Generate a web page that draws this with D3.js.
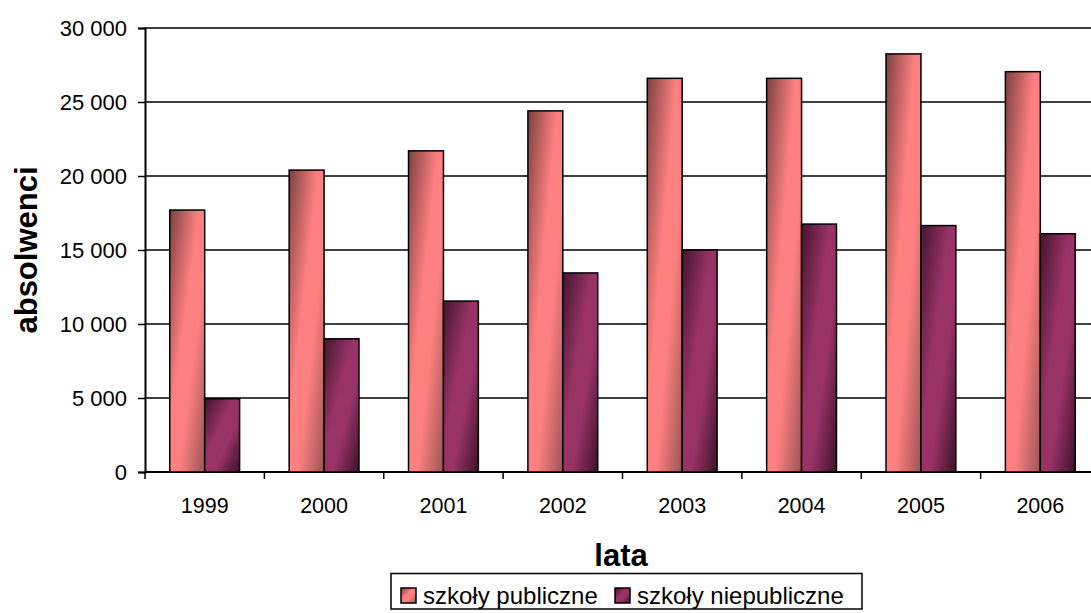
<!DOCTYPE html>
<html><head><meta charset="utf-8">
<script src="https://cdn.jsdelivr.net/npm/d3@7"></script>
<style>body{margin:0;background:#fff}svg{display:block}text{font-family:Arial,"Liberation Sans",sans-serif;fill:#000}</style>
</head><body>
<svg id="c" width="1091" height="613"></svg>
<script>
const years = ["1999","2000","2001","2002","2003","2004","2005","2006"];
const seriesNames = ["szkoły publiczne","szkoły niepubliczne"];
const publiczne = [17700, 20400, 21700, 24400, 26600, 26600, 28250, 27050];
const niepubliczne = [4950, 9000, 11550, 13450, 15000, 16750, 16650, 16100];
const yTicks = [0,5000,10000,15000,20000,25000,30000];
const xTitle = "lata", yTitle = "absolwenci";

(function(){
const svg = d3.select("#c");
const mLeft = 145, mTop = 28, mBottom = 472, mRight = 1100;
const y = d3.scaleLinear().domain([0,30000]).range([mBottom, mTop]);
const x0 = d3.scaleBand().domain(years).range([mLeft, mRight]).padding(0);
const groupW = x0.step()*0.585;
const x1 = d3.scaleBand().domain(seriesNames).range([0, groupW]).padding(0);

const defs = svg.append("defs");
function grad(id, dark, light, dark2){
  const g = defs.append("linearGradient").attr("id",id).attr("x1",0).attr("y1",0).attr("x2",1).attr("y2",1);
  g.append("stop").attr("offset",0).attr("stop-color",dark);
  g.append("stop").attr("offset",0.42).attr("stop-color",light);
  g.append("stop").attr("offset",0.62).attr("stop-color",light);
  g.append("stop").attr("offset",1).attr("stop-color",dark2);
}
grad("g0","#7a4040","#ff8080","#9a5555");
grad("g1","#44152e","#993366","#3c1229");
const fills = {"szkoły publiczne":"url(#g0)","szkoły niepubliczne":"url(#g1)"};

// gridlines
svg.append("g").selectAll("line").data(yTicks).join("line")
  .attr("x1",mLeft).attr("x2",1091).attr("y1",d=>y(d)).attr("y2",d=>y(d))
  .attr("stroke","#000").attr("stroke-width",1.5);

// y axis
const fmt = d => d3.format(",")(d).replace(/,/g," ");
const yAxis = d3.axisLeft(y).tickValues(yTicks).tickFormat(fmt).tickSize(7).tickPadding(11);
const ya = svg.append("g").attr("transform",`translate(${mLeft},0)`).call(yAxis);
ya.select(".domain").attr("stroke","#000").attr("stroke-width",2);
ya.selectAll(".tick line").attr("stroke","#000").attr("stroke-width",1.5);
ya.selectAll("text").attr("font-size",22).attr("font-family","Arial, 'Liberation Sans', sans-serif").attr("fill","#000");

// x axis
const xAxis = d3.axisBottom(x0).tickSize(0).tickPadding(26);
const xa = svg.append("g").attr("transform",`translate(0,${mBottom})`).call(xAxis);
xa.select(".domain").remove();
xa.selectAll("text").attr("font-size",21.5).attr("font-family","Arial, 'Liberation Sans', sans-serif").attr("fill","#000");
svg.append("g").selectAll("line").data(years).join("line")
  .attr("x1",d=>x0(d)).attr("x2",d=>x0(d)).attr("y1",mBottom).attr("y2",mBottom+7)
  .attr("stroke","#000").attr("stroke-width",1.5);
svg.append("line").attr("x1",mLeft).attr("x2",1091).attr("y1",mBottom).attr("y2",mBottom).attr("stroke","#000").attr("stroke-width",2);

// bars
const data = years.map((yr,i)=>({year:yr, vals:[{s:seriesNames[0],v:publiczne[i]},{s:seriesNames[1],v:niepubliczne[i]}]}));
const groups = svg.append("g").selectAll("g").data(data).join("g")
  .attr("transform",d=>`translate(${x0(d.year)+(x0.step()-groupW)/2},0)`);
groups.selectAll("rect").data(d=>d.vals).join("rect")
  .attr("x",d=>x1(d.s)).attr("width",x1.bandwidth())
  .attr("y",d=>y(d.v)).attr("height",d=>y(0)-y(d.v))
  .attr("fill",d=>fills[d.s]).attr("stroke","#000").attr("stroke-width",1.5);

// axis titles
svg.append("text").attr("transform","translate(37,250) rotate(-90)").attr("text-anchor","middle")
  .attr("font-size",31).attr("font-weight","bold").text(yTitle);
svg.append("text").attr("x",621).attr("y",566).attr("text-anchor","middle")
  .attr("font-size",31).attr("font-weight","bold").text(xTitle);

// legend
const lg = svg.append("g");
lg.append("rect").attr("x",391).attr("y",573.5).attr("width",471).attr("height",35.5)
  .attr("fill","#fff").attr("stroke","#000").attr("stroke-width",1.5);
const legX = [401, 615];
seriesNames.forEach((s,i)=>{
  lg.append("rect").attr("x",legX[i]).attr("y",588).attr("width",15).attr("height",15)
    .attr("fill",fills[s]).attr("stroke","#000").attr("stroke-width",1.5);
  lg.append("text").attr("x",legX[i]+22).attr("y",604).attr("font-size",24).text(s);
});
})();
</script>
</body></html>
